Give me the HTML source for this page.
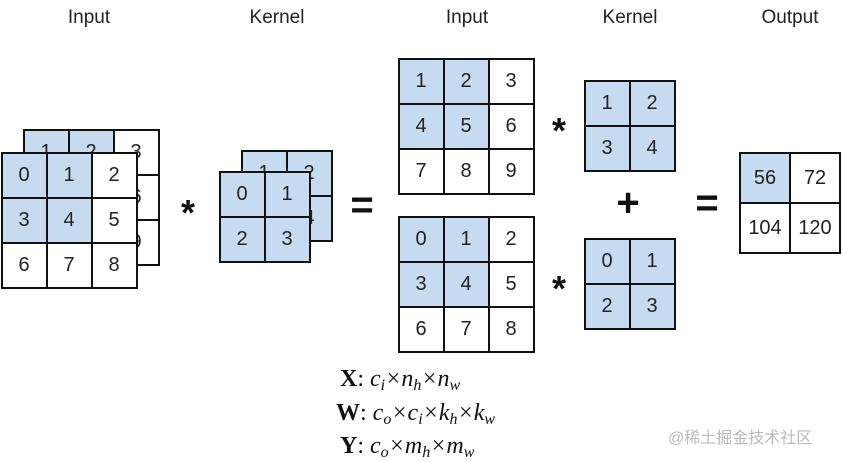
<!DOCTYPE html>
<html><head><style>
html,body{margin:0;padding:0;background:#fff;}
svg{display:block}
text{font-family:"Liberation Sans",sans-serif;}
</style></head><body>
<svg width="843" height="462" viewBox="0 0 843 462" xmlns="http://www.w3.org/2000/svg">
<defs>
<style>
.b{fill:#c6dbf0;stroke:#111;stroke-width:2}
.w{fill:#fff;stroke:#111;stroke-width:2}
.n{font-size:20px;fill:#222;text-anchor:middle;dominant-baseline:central}
.t{font-size:19px;fill:#222;text-anchor:middle}
.op{font-size:40px;fill:#111;text-anchor:middle;dominant-baseline:central;font-weight:bold}
.st{font-size:36px;fill:#111;text-anchor:middle;font-weight:bold}
.f{font-family:"Liberation Serif",serif;font-size:24px;fill:#111}
</style>
</defs>
<text class="t" x="89" y="23">Input</text>
<text class="t" x="277" y="23">Kernel</text>
<text class="t" x="467" y="23">Input</text>
<text class="t" x="630" y="23">Kernel</text>
<text class="t" x="790" y="23">Output</text>

<g transform="translate(24,130)">
<rect class="b" x="0" y="0" width="45" height="45"/><rect class="b" x="45" y="0" width="45" height="45"/><rect class="w" x="90" y="0" width="45" height="45"/>
<rect class="b" x="0" y="45" width="45" height="45"/><rect class="b" x="45" y="45" width="45" height="45"/><rect class="w" x="90" y="45" width="45" height="45"/>
<rect class="w" x="0" y="90" width="45" height="45"/><rect class="w" x="45" y="90" width="45" height="45"/><rect class="w" x="90" y="90" width="45" height="45"/>
<text class="n" x="22" y="22">1</text><text class="n" x="67" y="22">2</text><text class="n" x="112" y="22">3</text>
<text class="n" x="112" y="67">6</text><text class="n" x="112" y="112">9</text>
</g>
<g transform="translate(2,153)">
<rect class="b" x="0" y="0" width="45" height="45"/><rect class="b" x="45" y="0" width="45" height="45"/><rect class="w" x="90" y="0" width="45" height="45"/>
<rect class="b" x="0" y="45" width="45" height="45"/><rect class="b" x="45" y="45" width="45" height="45"/><rect class="w" x="90" y="45" width="45" height="45"/>
<rect class="w" x="0" y="90" width="45" height="45"/><rect class="w" x="45" y="90" width="45" height="45"/><rect class="w" x="90" y="90" width="45" height="45"/>
<text class="n" x="22" y="22">0</text><text class="n" x="67" y="22">1</text><text class="n" x="112" y="22">2</text>
<text class="n" x="22" y="67">3</text><text class="n" x="67" y="67">4</text><text class="n" x="112" y="67">5</text>
<text class="n" x="22" y="112">6</text><text class="n" x="67" y="112">7</text><text class="n" x="112" y="112">8</text>
</g>
<text class="st" x="188" y="225">*</text>
<g transform="translate(242,151)">
<rect class="b" x="0" y="0" width="45" height="45"/><rect class="b" x="45" y="0" width="45" height="45"/>
<rect class="b" x="0" y="45" width="45" height="45"/><rect class="b" x="45" y="45" width="45" height="45"/>
<text class="n" x="22" y="22">1</text><text class="n" x="67" y="22">2</text><text class="n" x="67" y="67">4</text>
</g>
<g transform="translate(220,172)">
<rect class="b" x="0" y="0" width="45" height="45"/><rect class="b" x="45" y="0" width="45" height="45"/>
<rect class="b" x="0" y="45" width="45" height="45"/><rect class="b" x="45" y="45" width="45" height="45"/>
<text class="n" x="22" y="22">0</text><text class="n" x="67" y="22">1</text>
<text class="n" x="22" y="67">2</text><text class="n" x="67" y="67">3</text>
</g>
<text class="op" x="362" y="205">=</text>

<g transform="translate(399,59)">
<rect class="b" x="0" y="0" width="45" height="45"/><rect class="b" x="45" y="0" width="45" height="45"/><rect class="w" x="90" y="0" width="45" height="45"/>
<rect class="b" x="0" y="45" width="45" height="45"/><rect class="b" x="45" y="45" width="45" height="45"/><rect class="w" x="90" y="45" width="45" height="45"/>
<rect class="w" x="0" y="90" width="45" height="45"/><rect class="w" x="45" y="90" width="45" height="45"/><rect class="w" x="90" y="90" width="45" height="45"/>
<text class="n" x="22" y="22">1</text><text class="n" x="67" y="22">2</text><text class="n" x="112" y="22">3</text>
<text class="n" x="22" y="67">4</text><text class="n" x="67" y="67">5</text><text class="n" x="112" y="67">6</text>
<text class="n" x="22" y="112">7</text><text class="n" x="67" y="112">8</text><text class="n" x="112" y="112">9</text>
</g>
<g transform="translate(399,217)">
<rect class="b" x="0" y="0" width="45" height="45"/><rect class="b" x="45" y="0" width="45" height="45"/><rect class="w" x="90" y="0" width="45" height="45"/>
<rect class="b" x="0" y="45" width="45" height="45"/><rect class="b" x="45" y="45" width="45" height="45"/><rect class="w" x="90" y="45" width="45" height="45"/>
<rect class="w" x="0" y="90" width="45" height="45"/><rect class="w" x="45" y="90" width="45" height="45"/><rect class="w" x="90" y="90" width="45" height="45"/>
<text class="n" x="22" y="22">0</text><text class="n" x="67" y="22">1</text><text class="n" x="112" y="22">2</text>
<text class="n" x="22" y="67">3</text><text class="n" x="67" y="67">4</text><text class="n" x="112" y="67">5</text>
<text class="n" x="22" y="112">6</text><text class="n" x="67" y="112">7</text><text class="n" x="112" y="112">8</text>
</g>
<text class="st" x="559" y="143">*</text>
<text class="st" x="559" y="301">*</text>
<g transform="translate(585,81)">
<rect class="b" x="0" y="0" width="45" height="45"/><rect class="b" x="45" y="0" width="45" height="45"/>
<rect class="b" x="0" y="45" width="45" height="45"/><rect class="b" x="45" y="45" width="45" height="45"/>
<text class="n" x="22" y="22">1</text><text class="n" x="67" y="22">2</text>
<text class="n" x="22" y="67">3</text><text class="n" x="67" y="67">4</text>
</g>
<g transform="translate(585,239)">
<rect class="b" x="0" y="0" width="45" height="45"/><rect class="b" x="45" y="0" width="45" height="45"/>
<rect class="b" x="0" y="45" width="45" height="45"/><rect class="b" x="45" y="45" width="45" height="45"/>
<text class="n" x="22" y="22">0</text><text class="n" x="67" y="22">1</text>
<text class="n" x="22" y="67">2</text><text class="n" x="67" y="67">3</text>
</g>
<text class="op" x="628" y="203">+</text>
<text class="op" x="707" y="203">=</text>
<g transform="translate(740,153)">
<rect class="b" x="0" y="0" width="50" height="50"/><rect class="w" x="50" y="0" width="50" height="50"/>
<rect class="w" x="0" y="50" width="50" height="50"/><rect class="w" x="50" y="50" width="50" height="50"/>
<text class="n" x="25" y="25">56</text><text class="n" x="75" y="25">72</text>
<text class="n" x="25" y="75">104</text><text class="n" x="75" y="75">120</text>
</g>

<text class="f" x="340" y="386"><tspan font-weight="bold">X</tspan>: <tspan font-style="italic">c<tspan font-size="16" dy="4">i</tspan><tspan dy="-4">×n</tspan><tspan font-size="16" dy="4">h</tspan><tspan dy="-4">×n</tspan><tspan font-size="16" dy="4">w</tspan></tspan></text>
<text class="f" x="336" y="420"><tspan font-weight="bold">W</tspan>: <tspan font-style="italic">c<tspan font-size="16" dy="4">o</tspan><tspan dy="-4">×c</tspan><tspan font-size="16" dy="4">i</tspan><tspan dy="-4">×k</tspan><tspan font-size="16" dy="4">h</tspan><tspan dy="-4">×k</tspan><tspan font-size="16" dy="4">w</tspan></tspan></text>
<text class="f" x="340" y="453"><tspan font-weight="bold">Y</tspan>: <tspan font-style="italic">c<tspan font-size="16" dy="4">o</tspan><tspan dy="-4">×m</tspan><tspan font-size="16" dy="4">h</tspan><tspan dy="-4">×m</tspan><tspan font-size="16" dy="4">w</tspan></tspan></text>

<text x="668" y="443" style="font-family:'Liberation Sans','Noto Sans CJK SC',sans-serif;font-size:16px;fill:#bbb">@稀土掘金技术社区</text>
</svg>
</body></html>
